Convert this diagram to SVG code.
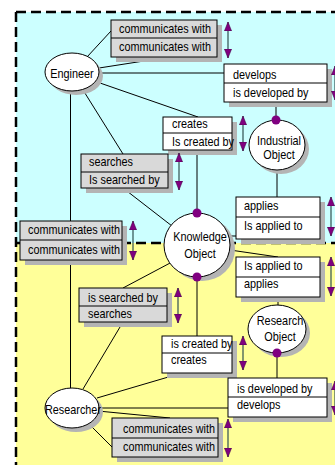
<svg xmlns="http://www.w3.org/2000/svg" width="335" height="465" viewBox="0 0 335 465">
<defs>
<marker id="ah" viewBox="0 0 10 8" markerUnits="userSpaceOnUse" markerWidth="9" markerHeight="7.5" refX="10" refY="4" orient="auto-start-reverse">
<path d="M0,0 L10,4 L0,8 z" fill="#800080" stroke="#400040" stroke-width="0.6"/>
</marker>
</defs>
<style>
.bx{stroke:#000;stroke-width:1}
.g{fill:#d9d9d9}
.w{fill:#fff}
.sh{fill:#b4b4b4;stroke:none}
.ln{stroke:#000;stroke-width:1;fill:none}
.ar{stroke:#2f4f4f;stroke-width:1.2;marker-start:url(#ah);marker-end:url(#ah)}
.dash{stroke:#000;stroke-width:2.5;stroke-dasharray:10 5;fill:none}
.dot{fill:#800080}
text{font-family:"Liberation Sans",Arial,sans-serif;font-size:13px;fill:#000}
.c{text-anchor:middle}
</style>
<g id="background">
<rect x="16" y="12" width="330" height="231" fill="#ccffff"/>
<rect x="16" y="243" width="330" height="230" fill="#ffff99"/>
<line class="dash" x1="16" y1="12" x2="335" y2="12"/>
<line class="dash" x1="16" y1="12" x2="16" y2="465"/>
<line class="dash" x1="16" y1="243" x2="335" y2="243"/>
</g>
<g id="connectors">
<line class="ln" x1="87" y1="57" x2="111" y2="31"/>
<line class="ln" x1="99" y1="68" x2="176" y2="56"/>
<line class="ln" x1="99" y1="73" x2="224" y2="73"/>
<line class="ln" x1="100" y1="83" x2="198" y2="117"/>
<line class="ln" x1="83" y1="90" x2="123" y2="154"/>
<line class="ln" x1="70.5" y1="91" x2="70.5" y2="388"/>
<line class="ln" x1="276" y1="102" x2="276" y2="119"/>
<line class="ln" x1="197" y1="150" x2="197" y2="213"/>
<line class="ln" x1="123" y1="188" x2="172" y2="226"/>
<line class="ln" x1="277" y1="170" x2="277" y2="197"/>
<line class="ln" x1="228" y1="236" x2="236" y2="236"/>
<line class="ln" x1="230" y1="250" x2="278" y2="257"/>
<line class="ln" x1="278" y1="297" x2="278" y2="305"/>
<line class="ln" x1="172" y1="262" x2="123" y2="288"/>
<line class="ln" x1="123" y1="322" x2="83" y2="389"/>
<line class="ln" x1="197" y1="277" x2="197" y2="336"/>
<line class="ln" x1="182" y1="373" x2="97" y2="398"/>
<line class="ln" x1="277" y1="353" x2="277" y2="378"/>
<line class="ln" x1="99" y1="408" x2="228" y2="408"/>
<line class="ln" x1="98" y1="411" x2="170" y2="418"/>
<line class="ln" x1="88" y1="423" x2="112" y2="447"/>
</g>
<g id="engineer">
<ellipse class="sh" cx="76" cy="76" rx="27" ry="19"/>
<ellipse class="bx w" cx="72" cy="72" rx="27" ry="19"/>
<text class="c" x="72" y="78" textLength="43.5" lengthAdjust="spacingAndGlyphs">Engineer</text>
</g>
<g id="researcher">
<ellipse class="sh" cx="76" cy="412" rx="27" ry="20"/>
<ellipse class="bx w" cx="72" cy="408" rx="27" ry="20"/>
<text class="c" x="73" y="414" textLength="56" lengthAdjust="spacingAndGlyphs">Researcher</text>
</g>
<g id="knowledge-object">
<ellipse class="sh" cx="202" cy="249" rx="33" ry="32"/>
<ellipse class="bx w" cx="197" cy="245" rx="33" ry="32"/>
<text class="c" x="200" y="241" textLength="53.7" lengthAdjust="spacingAndGlyphs">Knowledge</text>
<text class="c" x="200" y="258" textLength="31.4" lengthAdjust="spacingAndGlyphs">Object</text>
<circle class="dot" cx="197" cy="213" r="4.5"/>
<circle class="dot" cx="197" cy="277" r="4.5"/>
</g>
<g id="industrial-object">
<ellipse class="sh" cx="281" cy="149" rx="28" ry="25"/>
<ellipse class="bx w" cx="277" cy="145" rx="28" ry="25"/>
<text class="c" x="279" y="145" textLength="44" lengthAdjust="spacingAndGlyphs">Industrial</text>
<text class="c" x="279" y="159" textLength="31.4" lengthAdjust="spacingAndGlyphs">Object</text>
<circle class="dot" cx="276" cy="120" r="4.5"/>
</g>
<g id="research-object">
<ellipse class="sh" cx="281" cy="333" rx="29" ry="24"/>
<ellipse class="bx w" cx="277" cy="329" rx="29" ry="24"/>
<text class="c" x="280" y="325" textLength="46.5" lengthAdjust="spacingAndGlyphs">Research</text>
<text class="c" x="280" y="341" textLength="31.4" lengthAdjust="spacingAndGlyphs">Object</text>
<circle class="dot" cx="277" cy="353" r="4.5"/>
</g>
<g id="rel-eng-communicates">
<rect class="sh" x="116" y="25" width="106" height="37"/>
<rect class="bx g" x="111" y="20" width="106" height="37"/>
<line class="ln" x1="111" y1="38" x2="217" y2="38"/>
<text x="119" y="33" textLength="92" lengthAdjust="spacingAndGlyphs">communicates with</text>
<text x="119" y="51" textLength="92" lengthAdjust="spacingAndGlyphs">communicates with</text>
<line class="ar" x1="228" y1="22" x2="228" y2="58"/>
</g>
<g id="rel-develops-top">
<rect class="sh" x="229" y="69" width="103" height="38"/>
<rect class="bx w" x="224" y="64" width="103" height="38"/>
<line class="ln" x1="224" y1="83" x2="327" y2="83"/>
<text x="233" y="79" textLength="43.5" lengthAdjust="spacingAndGlyphs">develops</text>
<text x="233" y="97" textLength="75.5" lengthAdjust="spacingAndGlyphs">is developed by</text>
<line class="ar" x1="335" y1="66" x2="335" y2="100"/>
</g>
<g id="rel-creates-top">
<rect class="sh" x="168" y="122" width="69" height="33"/>
<rect class="bx w" x="163" y="117" width="69" height="33"/>
<line class="ln" x1="163" y1="133" x2="232" y2="133"/>
<text x="172" y="128" textLength="35.6" lengthAdjust="spacingAndGlyphs">creates</text>
<text x="172" y="146" textLength="62" lengthAdjust="spacingAndGlyphs">Is created by</text>
<line class="ar" x1="243" y1="116" x2="243" y2="151"/>
</g>
<g id="rel-searches-top">
<rect class="sh" x="86" y="159" width="87" height="34"/>
<rect class="bx g" x="81" y="154" width="87" height="34"/>
<line class="ln" x1="81" y1="172" x2="168" y2="172"/>
<text x="89" y="166" textLength="44" lengthAdjust="spacingAndGlyphs">searches</text>
<text x="89" y="184" textLength="70.6" lengthAdjust="spacingAndGlyphs">Is searched by</text>
<line class="ar" x1="179" y1="153" x2="179" y2="190"/>
</g>
<g id="rel-applies-top">
<rect class="sh" x="241" y="202" width="84" height="42"/>
<rect class="bx w" x="236" y="197" width="84" height="42"/>
<line class="ln" x1="236" y1="217" x2="320" y2="217"/>
<text x="244" y="210" textLength="34.4" lengthAdjust="spacingAndGlyphs">applies</text>
<text x="244" y="230" textLength="58.6" lengthAdjust="spacingAndGlyphs">Is applied to</text>
<line class="ar" x1="331" y1="197" x2="331" y2="236"/>
</g>
<g id="rel-eng-res-communicates">
<rect class="sh" x="25" y="226" width="102" height="39"/>
<rect class="bx g" x="20" y="221" width="102" height="39"/>
<line class="ln" x1="20" y1="240" x2="122" y2="240"/>
<text x="28" y="234" textLength="92" lengthAdjust="spacingAndGlyphs">communicates with</text>
<text x="28" y="254" textLength="92" lengthAdjust="spacingAndGlyphs">communicates with</text>
<line class="ar" x1="133" y1="221" x2="133" y2="260"/>
</g>
<g id="rel-applies-bottom">
<rect class="sh" x="241" y="262" width="84" height="40"/>
<rect class="bx w" x="236" y="257" width="84" height="40"/>
<line class="ln" x1="236" y1="277" x2="320" y2="277"/>
<text x="244" y="270" textLength="58.6" lengthAdjust="spacingAndGlyphs">Is applied to</text>
<text x="244" y="288" textLength="34.4" lengthAdjust="spacingAndGlyphs">applies</text>
<line class="ar" x1="331" y1="257" x2="331" y2="296"/>
</g>
<g id="rel-searches-bottom">
<rect class="sh" x="84" y="293" width="88" height="34"/>
<rect class="bx g" x="79" y="288" width="88" height="34"/>
<line class="ln" x1="79" y1="306" x2="167" y2="306"/>
<text x="88" y="302" textLength="70" lengthAdjust="spacingAndGlyphs">is searched by</text>
<text x="88" y="318" textLength="44" lengthAdjust="spacingAndGlyphs">searches</text>
<line class="ar" x1="178" y1="288" x2="178" y2="323"/>
</g>
<g id="rel-creates-bottom">
<rect class="sh" x="167" y="341" width="70" height="37"/>
<rect class="bx w" x="162" y="336" width="70" height="37"/>
<line class="ln" x1="162" y1="353" x2="232" y2="353"/>
<text x="171" y="348" textLength="61.5" lengthAdjust="spacingAndGlyphs">is created by</text>
<text x="171" y="364" textLength="35.6" lengthAdjust="spacingAndGlyphs">creates</text>
<line class="ar" x1="243" y1="336" x2="243" y2="370"/>
</g>
<g id="rel-develops-bottom">
<rect class="sh" x="233" y="383" width="99" height="39"/>
<rect class="bx w" x="228" y="378" width="99" height="39"/>
<line class="ln" x1="228" y1="397" x2="327" y2="397"/>
<text x="237" y="393" textLength="75.5" lengthAdjust="spacingAndGlyphs">is developed by</text>
<text x="237" y="409" textLength="43.5" lengthAdjust="spacingAndGlyphs">develops</text>
<line class="ar" x1="335" y1="381" x2="335" y2="415"/>
</g>
<g id="rel-res-communicates">
<rect class="sh" x="117" y="423" width="106" height="39"/>
<rect class="bx g" x="112" y="418" width="106" height="39"/>
<line class="ln" x1="112" y1="438" x2="218" y2="438"/>
<text x="123" y="433" textLength="92" lengthAdjust="spacingAndGlyphs">communicates with</text>
<text x="123" y="451" textLength="92" lengthAdjust="spacingAndGlyphs">communicates with</text>
<line class="ar" x1="228" y1="419" x2="228" y2="457"/>
</g>
</svg>
